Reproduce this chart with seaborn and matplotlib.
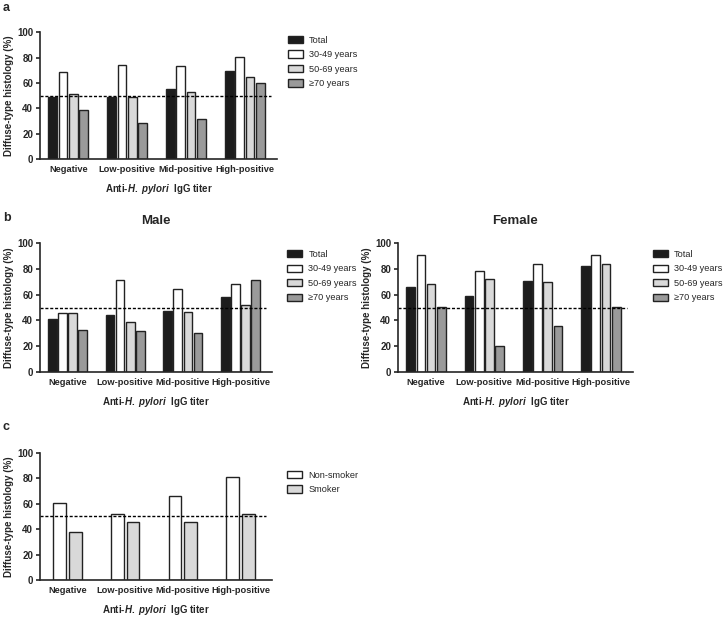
import matplotlib
matplotlib.use('Agg')
import matplotlib.pyplot as plt
import seaborn as sns
import pandas as pd

# Data
titers = ['Negative', 'Low-positive', 'Mid-positive', 'High-positive']
age_groups = ['Total', '30-49 years', '50-69 years', '≥70 years']
smoke_groups = ['Non-smoker', 'Smoker']

all_total = [48.9, 49.0, 55.0, 69.2]
all_30_49 = [68.7, 74.2, 73.7, 80.3]
all_50_69 = [51.3, 49.0, 52.6, 65.0]
all_70 = [38.7, 28.2, 31.6, 60.3]

male_total = [41.3, 44.2, 47.3, 57.9]
male_30_49 = [45.5, 71.2, 64.2, 68.0]
male_50_69 = [45.5, 38.7, 46.2, 51.7]
male_70 = [32.7, 32.2, 29.9, 71.2]

female_total = [65.6, 58.9, 70.3, 82.6]
female_30_49 = [90.6, 78.6, 83.9, 91.1]
female_50_69 = [68.0, 71.9, 69.8, 83.9]
female_70 = [50.3, 20.3, 35.9, 50.3]

non_smoker = [60.5, 51.8, 66.3, 81.0]
smoker = [37.9, 45.5, 45.5, 51.6]

age_colors = ['#1c1c1c', '#ffffff', '#d9d9d9', '#9a9a9a']
smoke_colors = ['#ffffff', '#d9d9d9']

sns.set_style('ticks')
plt.rcParams['font.family'] = ['Liberation Sans', 'DejaVu Sans']
plt.rcParams['mathtext.fontset'] = 'custom'
plt.rcParams['mathtext.it'] = 'Liberation Sans:italic:bold'
plt.rcParams['mathtext.rm'] = 'Liberation Sans:bold'


def long_frame(groups, series):
    rows = []
    for g, vals in zip(groups, series):
        for t, v in zip(titers, vals):
            rows.append({'titer': t, 'group': g, 'pct': v})
    return pd.DataFrame(rows)


def draw_panel(ax, groups, series, colors, width, gap, legend_x=1.03, legend_y=0.975):
    df = long_frame(groups, series)
    sns.barplot(data=df, x='titer', y='pct', hue='group', order=titers,
                hue_order=groups, palette=colors, edgecolor='#222222',
                linewidth=1.0, width=width, gap=gap, ax=ax)
    ax.set_ylim(0, 100)
    ax.set_xlim(-0.48, 3.55)
    ax.set_yticks([0, 20, 40, 60, 80, 100])
    ax.axhline(50, xmin=0, xmax=0.975, color='black', linestyle=(0, (2.2, 1.3)), linewidth=1.0)
    sns.despine(ax=ax)
    for s in ['left', 'bottom']:
        ax.spines[s].set_linewidth(1.2)
    ax.tick_params(axis='x', length=0, pad=4, labelsize=6.7)
    ax.tick_params(axis='y', length=3, width=1.2, pad=2, labelsize=7)
    for lbl in ax.get_xticklabels() + ax.get_yticklabels():
        lbl.set_fontweight('bold')
    ax.set_ylabel('Diffuse-type histology (%)', fontsize=7, fontweight='bold', labelpad=2)
    ax.set_xlabel(r'Anti-$\it{H.\ pylori}$  IgG titer', fontsize=7, fontweight='bold', labelpad=6)
    handles, labels = ax.get_legend_handles_labels()
    ax.legend(handles, labels, loc='upper left', bbox_to_anchor=(legend_x, legend_y),
              frameon=False, fontsize=6.6, handlelength=1.6, handleheight=0.85,
              labelspacing=0.6, handletextpad=0.7, borderaxespad=0.0)


fig = plt.figure(figsize=(7.23, 6.17), dpi=100)

ax_a = fig.add_axes([0.0553, 0.742, 0.328, 0.206])
draw_panel(ax_a, age_groups, [all_total, all_30_49, all_50_69, all_70], age_colors, 0.7, 0.15,
           legend_x=1.03, legend_y=1.0)

ax_m = fig.add_axes([0.0553, 0.397, 0.321, 0.209])
draw_panel(ax_m, age_groups, [male_total, male_30_49, male_50_69, male_70], age_colors, 0.7, 0.15,
           legend_x=1.05)
ax_m.set_title('Male', fontsize=9.5, fontweight='bold', pad=14)

ax_f = fig.add_axes([0.5505, 0.397, 0.325, 0.209])
draw_panel(ax_f, age_groups, [female_total, female_30_49, female_50_69, female_70], age_colors, 0.7, 0.15,
           legend_x=1.07)
ax_f.set_title('Female', fontsize=9.5, fontweight='bold', pad=14)

ax_c = fig.add_axes([0.0553, 0.06, 0.321, 0.206])
draw_panel(ax_c, smoke_groups, [non_smoker, smoker], smoke_colors, 0.55, 0.2,
           legend_x=1.05, legend_y=0.89)

fig.text(0.004, 0.997, 'a', fontsize=9, fontweight='bold', va='top')
fig.text(0.004, 0.657, 'b', fontsize=9, fontweight='bold', va='top')
fig.text(0.004, 0.318, 'c', fontsize=9, fontweight='bold', va='top')

fig.savefig('out.png', dpi=100)
